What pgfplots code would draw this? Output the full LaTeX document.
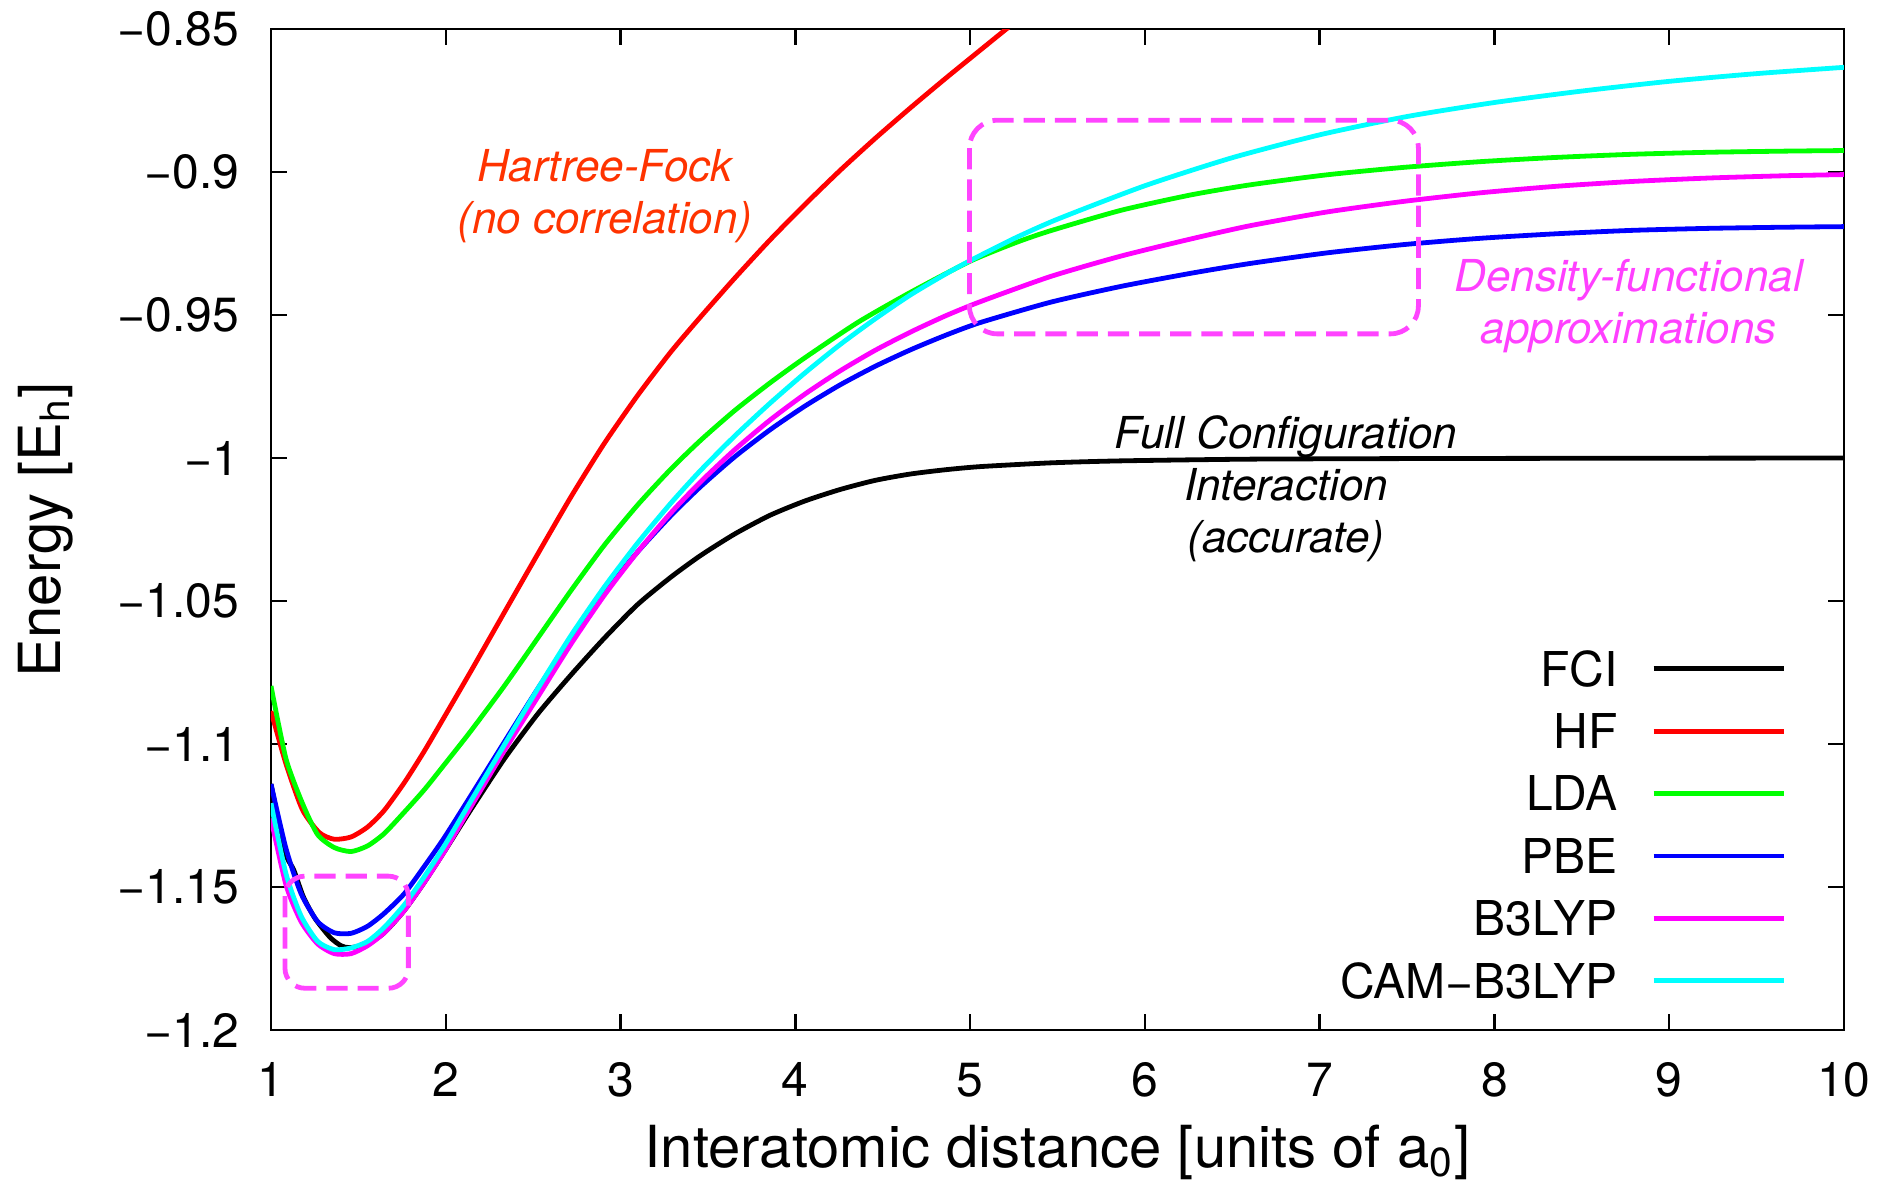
\documentclass[border=0pt]{standalone}
\usepackage{fontspec}
\setmainfont{TeX Gyre Heros}
\usepackage{pgfplots}
\usepackage{pgfplotstable}
\pgfplotsset{compat=1.18}

\definecolor{hfC}{HTML}{FF0000}
\definecolor{ldaC}{HTML}{00FF00}
\definecolor{pbeC}{HTML}{0000FF}
\definecolor{b3C}{HTML}{FF00FF}
\definecolor{camC}{HTML}{00FFFF}
\definecolor{hfText}{HTML}{FF3300}
\definecolor{dftText}{HTML}{FF40FF}
\definecolor{boxC}{HTML}{FF44FF}

% x = interatomic distance (a0), y = energy (Eh)
\pgfplotstableread{
x y
1.0 -1.1140
1.08 -1.1377
1.13 -1.1440
1.185 -1.1534
1.252 -1.1610
1.338 -1.1676
1.40 -1.1705
1.45 -1.1712
1.55 -1.1700
1.648 -1.1660
1.763 -1.1582
1.877 -1.1484
1.992 -1.1376
2.144 -1.1229
2.335 -1.1052
2.526 -1.0895
2.717 -1.0758
2.907 -1.0630
3.098 -1.0512
3.289 -1.0416
3.46 -1.0340
3.655 -1.0265
3.856 -1.0200
4.056 -1.0150
4.257 -1.0110
4.458 -1.0078
4.658 -1.0056
4.859 -1.0041
5.06 -1.0030
5.46 -1.0017
5.863 -1.0010
6.6 -1.0004
7.5 -1.0002
8.5 -1.0001
10 -1.0000
}\fci

\pgfplotstableread{
x y
1.0 -1.0885
1.086 -1.1070
1.18 -1.1230
1.277 -1.1310
1.362 -1.1333
1.458 -1.1325
1.553 -1.1290
1.648 -1.1232
1.763 -1.1135
1.877 -1.1025
1.992 -1.0905
2.144 -1.0745
2.335 -1.0540
2.526 -1.0336
2.717 -1.0135
2.907 -0.9949
3.098 -0.9781
3.289 -0.9628
3.46 -0.9505
3.655 -0.9370
3.856 -0.9237
4.056 -0.9113
4.257 -0.8994
4.458 -0.8882
4.658 -0.8776
4.859 -0.8673
5.06 -0.8573
5.22 -0.8494
5.5 -0.8360
6.0 -0.8130
}\hf

\pgfplotstableread{
x y
1.0 -1.0797
1.086 -1.1052
1.181 -1.1209
1.267 -1.1317
1.362 -1.1362
1.458 -1.1376
1.553 -1.1356
1.648 -1.1313
1.763 -1.1238
1.877 -1.1160
1.992 -1.1072
2.144 -1.0954
2.335 -1.0797
2.526 -1.0630
2.717 -1.0463
2.907 -1.0305
3.098 -1.0164
3.289 -1.0038
3.46 -0.9937
3.655 -0.9833
3.856 -0.9737
4.056 -0.9649
4.357 -0.9526
4.658 -0.9421
5.0 -0.9312
5.261 -0.9247
5.462 -0.9205
5.863 -0.9134
6.264 -0.9080
6.601 -0.9045
7.039 -0.9010
7.477 -0.8984
7.915 -0.8964
8.353 -0.8949
8.791 -0.8938
9.229 -0.8931
9.667 -0.8927
10.0 -0.8925
}\lda

\pgfplotstableread{
x y
1.0 -1.1140
1.086 -1.1366
1.172 -1.1523
1.267 -1.1621
1.362 -1.1660
1.458 -1.1662
1.553 -1.1637
1.648 -1.1592
1.763 -1.1523
1.877 -1.1428
1.992 -1.1327
2.144 -1.1180
2.335 -1.0993
2.526 -1.0807
2.717 -1.0632
2.907 -1.0471
3.098 -1.0328
3.289 -1.0201
3.46 -1.0099
3.655 -0.9995
3.856 -0.9901
4.056 -0.9818
4.257 -0.9744
4.458 -0.9679
4.658 -0.9622
4.859 -0.9571
5.06 -0.9526
5.462 -0.9455
5.863 -0.9400
6.264 -0.9354
6.6 -0.9320
7.039 -0.9283
7.477 -0.9254
7.915 -0.9232
8.353 -0.9216
8.791 -0.9204
9.229 -0.9197
9.667 -0.9193
10 -0.9191
}\pbe

\pgfplotstableread{
x y
1.0 -1.1260
1.086 -1.1493
1.172 -1.1621
1.267 -1.1699
1.362 -1.1733
1.458 -1.1733
1.553 -1.1705
1.648 -1.1660
1.763 -1.1582
1.877 -1.1484
1.992 -1.1376
2.144 -1.1219
2.335 -1.1023
2.526 -1.0836
2.717 -1.0650
2.907 -1.0480
3.098 -1.0328
3.289 -1.0191
3.46 -1.0082
3.655 -0.9970
3.856 -0.9867
4.056 -0.9776
4.257 -0.9695
4.458 -0.9623
4.658 -0.9560
4.859 -0.9503
5.06 -0.9453
5.462 -0.9365
5.863 -0.9294
6.264 -0.9234
6.6 -0.9188
7.039 -0.9140
7.477 -0.9103
7.915 -0.9073
8.353 -0.9050
8.791 -0.9033
9.229 -0.9021
9.667 -0.9013
10 -0.9009
}\bthree

\pgfplotstableread{
x y
1.0 -1.1207
1.086 -1.1454
1.172 -1.1601
1.267 -1.1690
1.362 -1.1719
1.458 -1.1713
1.553 -1.1690
1.648 -1.1641
1.763 -1.1562
1.877 -1.1464
1.992 -1.1356
2.144 -1.1199
2.335 -1.1003
2.526 -1.0807
2.717 -1.0620
2.907 -1.0451
3.098 -1.0297
3.289 -1.0157
3.46 -1.0042
3.655 -0.9922
3.856 -0.9808
4.056 -0.9702
4.257 -0.9603
4.458 -0.9513
4.658 -0.9430
4.859 -0.9357
5.0 -0.9310
5.25 -0.9233
5.5 -0.9165
6.0 -0.9048
6.5 -0.8950
7.0 -0.8870
7.5 -0.8806
8.0 -0.8757
8.5 -0.8717
9.0 -0.8683
9.5 -0.8656
10 -0.8634
}\cam

\begin{document}
\begin{tikzpicture}
\begin{axis}[
  name=ax,
  scale only axis,
  width=393.25pt, height=250.25pt,
  xmin=1, xmax=10, ymin=-1.2, ymax=-0.85,
  axis line style={line width=0.7pt},
  tick style={line width=0.6pt, black},
  major tick length=4pt,
  tick align=inside,
  xtick={1,2,3,4,5,6,7,8,9,10},
  xticklabels={1,2,3,4,5,6,7,8,9,10},
  ytick={-1.2,-1.15,-1.1,-1.05,-1,-0.95,-0.9,-0.85},
  yticklabels={−1.2,−1.15,−1.1,−1.05,−1,−0.95,−0.9,−0.85},
  xticklabel style={font=\fontsize{12}{14}\selectfont, inner sep=0pt, anchor=north, yshift=-8pt},
  yticklabel style={font=\fontsize{12}{14}\selectfont, inner sep=0pt, anchor=east, xshift=-7.75pt},
  xlabel={Interatomic distance [units of a\textsubscript{0}]},
  ylabel={Energy [E\textsubscript{h}]},
  every axis x label/.style={at={(axis description cs:0.5,0)}, anchor=north, yshift=-23.5pt, inner sep=0pt, font=\fontsize{14.5}{16}\selectfont},
  every axis y label/.style={at={(axis description cs:0,0.5)}, anchor=north, xshift=-63.5pt, rotate=90, inner sep=0pt, font=\fontsize{14.5}{16}\selectfont},
  legend plot pos=right,
  legend cell align=right,
  legend image code/.code={\draw[#1] (0pt,0pt) -- (32.5pt,0pt);},
  legend style={draw=none, fill=none, inner sep=0pt, outer sep=0pt,
    at={(axis description cs:1,0)}, anchor=south east, xshift=-14.5pt, yshift=6.2pt,
    font=\fontsize{12}{14}\selectfont, row sep=3.4pt, column sep=8.4pt,
    nodes={inner sep=0pt, text height=10.4pt, text depth=1.8pt}},
  every axis plot/.append style={line width=1.2pt, smooth, tension=0.4},
]
\addplot[black] table {\fci};
\addplot[hfC] table {\hf};
\addplot[ldaC] table {\lda};
\addplot[pbeC] table {\pbe};
\addplot[b3C] table {\bthree};
\addplot[camC] table {\cam};
\legend{FCI,HF,LDA,PBE,B3LYP,CAM−B3LYP}

\draw[boxC, line width=1.2pt, dash pattern=on 5.3pt off 2.5pt, rounded corners=5pt]
  (axis cs:1.08,-1.1462) rectangle (axis cs:1.786,-1.1854);
\draw[boxC, line width=1.2pt, dash pattern=on 5.3pt off 2.5pt, rounded corners=7pt]
  (axis cs:4.996,-0.8819) rectangle (axis cs:7.565,-0.9566);

\node[text=hfText, align=center, font=\fontsize{11}{13}\selectfont\itshape]
  at (axis cs:2.911,-0.9085) {Hartree-Fock\\(no correlation)};
\node[text=black, align=center, font=\fontsize{11}{13}\selectfont\itshape]
  at (axis cs:6.808,-1.0106) {Full Configuration\\Interaction\\(accurate)};
\node[text=dftText, align=center, font=\fontsize{11}{13}\selectfont\itshape]
  at (axis cs:8.768,-0.9468) {Density-functional\\approximations};
\end{axis}
\pgfresetboundingbox
\useasboundingbox ([shift={(-67.75pt,-37.5pt)}]ax.south west) rectangle ([shift={(9.25pt,7.25pt)}]ax.north east);
\end{tikzpicture}
\end{document}
